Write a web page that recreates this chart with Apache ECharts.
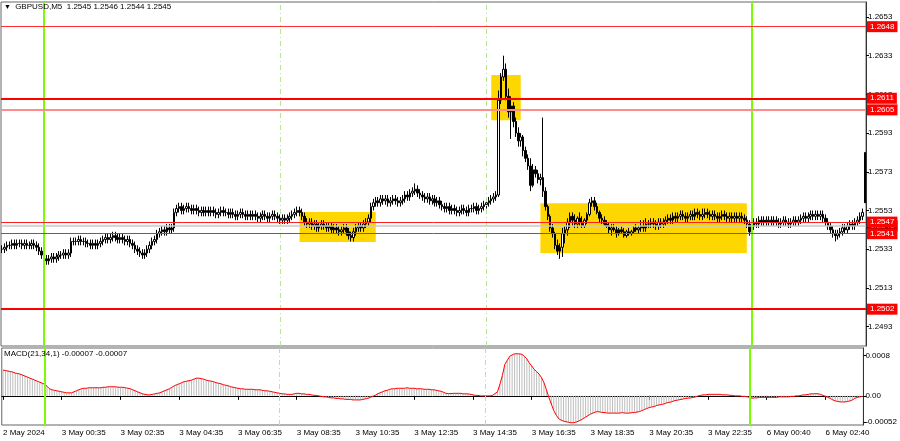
<!DOCTYPE html>
<html><head><meta charset="utf-8">
<script src="https://cdn.jsdelivr.net/npm/echarts@6/dist/echarts.min.js"></script>
<style>html,body{margin:0;padding:0;background:#fff}#c{width:900px;height:441px}</style>
</head><body><div id="c"></div>
<script>
// Prices are stored in pips above BASE (1.2500)
const BASE = 1.25;
const opens = [
33,33,34,35,35,36,35,36,36,35,
36,35,35,36,35,34,32,30,28,27,
28,29,28,29,30,30,31,30,31,37,
37,37,38,37,37,36,36,35,36,35,
36,37,38,39,38,39,40,39,38,39,
38,37,38,36,35,33,32,31,30,31,
33,35,37,38,41,42,43,42,44,43,
44,52,54,55,53,54,55,54,53,54,
53,52,53,52,53,52,53,52,51,52,
53,52,52,51,52,51,50,51,52,51,
50,51,50,51,50,49,50,51,50,49,
50,51,50,49,48,49,48,49,50,51,
52,53,52,50,47,46,47,45,46,44,
45,46,45,44,45,43,44,43,42,43,
44,42,40,39,42,44,45,44,46,47,
49,55,57,58,57,59,58,59,57,58,
59,58,57,58,59,61,60,62,63,64,
62,61,60,59,60,58,59,57,58,56,
55,54,55,53,54,53,52,53,54,53,
52,54,54,55,53,54,55,56,57,58,
59,60,61,110,122,126,112,104,107,99,
93,89,91,84,80,76,66,74,72,69,
70,63,55,50,44,41,35,32,34,41,
43,47,50,48,46,49,47,45,48,51,
57,58,55,52,49,48,46,45,43,44,
43,41,43,42,40,42,41,42,44,43,
44,45,44,46,46,47,46,45,47,46,
47,48,49,48,50,49,50,51,50,49,
50,51,50,52,51,50,51,52,51,50,
51,50,49,50,51,50,49,50,49,50,
49,50,49,48,46,42,45,47,46,48,
47,48,47,48,47,48,47,46,47,48,
47,46,47,48,47,48,49,50,49,50,
51,50,51,50,51,49,47,45,43,41,
40,41,42,44,43,45,46,45,47,48,
50,83];
const closes = [
33,34,35,35,36,35,36,36,35,36,
35,35,36,35,34,32,30,28,27,28,
29,28,29,30,30,31,30,31,37,37,
37,38,37,37,36,36,35,36,35,36,
37,38,39,38,39,40,39,38,39,38,
37,38,36,35,33,32,31,30,31,33,
35,37,38,41,42,43,42,44,43,44,
52,54,55,53,54,55,54,53,54,53,
52,53,52,53,52,53,52,51,52,53,
52,52,51,52,51,50,51,52,51,50,
51,50,51,50,49,50,51,50,49,50,
51,50,49,48,49,48,49,50,51,52,
53,52,50,47,46,47,45,46,44,45,
46,45,44,45,43,44,43,42,43,44,
42,40,39,42,44,45,44,46,47,49,
55,57,58,57,59,58,59,57,58,59,
58,57,58,59,61,60,62,63,64,62,
61,60,59,60,58,59,57,58,56,55,
54,55,53,54,53,52,53,54,53,52,
54,54,55,53,54,55,56,57,58,59,
60,61,110,122,126,112,104,107,99,93,
89,91,84,80,76,66,74,72,69,70,
63,55,50,44,41,35,32,34,41,43,
47,50,48,46,49,47,45,48,51,57,
58,55,52,49,48,46,45,43,44,43,
41,43,42,40,42,41,42,44,43,44,
45,44,46,46,47,46,45,47,46,47,
48,49,48,50,49,50,51,50,49,50,
51,50,52,51,50,51,52,51,50,51,
50,49,50,51,50,49,50,49,50,49,
50,49,48,46,42,45,47,46,48,47,
48,47,48,47,48,47,46,47,48,47,
46,47,48,47,48,49,50,49,50,51,
50,51,50,51,49,47,45,43,41,40,
41,42,44,43,45,46,45,47,48,50,
52,57];
const highs = [
35,36,37,37,38,38,38,38,38,38,
38,37,38,38,37,36,34,32,30,30,
31,31,31,32,32,33,33,33,39,39,
39,40,40,39,39,38,38,38,38,38,
39,40,41,41,41,42,42,41,41,41,
40,40,40,38,37,35,34,33,33,35,
37,39,40,43,44,45,45,46,46,46,
54,56,57,57,56,57,57,56,56,56,
55,55,55,55,55,55,55,54,54,55,
55,54,54,54,54,53,53,54,54,53,
53,53,53,53,52,52,53,53,52,52,
53,53,52,51,51,51,51,52,53,54,
55,55,54,52,49,49,49,48,48,47,
48,48,47,47,47,46,46,45,45,46,
46,44,42,44,46,47,47,48,49,51,
57,59,60,60,61,61,61,61,60,61,
61,60,60,61,63,63,64,65,67,66,
64,63,62,62,62,61,61,60,60,58,
57,57,57,56,56,55,55,56,56,55,
56,56,57,57,56,57,58,59,60,61,
62,63,115,124,133,129,116,112,109,101,
96,93,92,86,82,80,77,76,74,72,
101,65,56,51,46,42,38,36,44,45,
49,52,52,51,50,52,50,49,52,59,
60,60,57,53,51,50,48,47,46,46,
45,44,45,44,43,44,43,45,46,45,
48,48,49,48,49,49,48,49,49,49,
50,51,51,52,52,52,53,53,52,52,
53,53,54,54,53,54,54,54,53,53,
53,52,52,53,53,52,52,52,52,52,
52,52,51,50,48,47,49,49,50,50,
50,50,50,50,50,50,49,49,50,50,
49,49,50,50,50,51,52,52,52,53,
53,53,53,53,53,51,49,47,45,43,
43,44,46,46,47,48,48,49,50,52,
54,83];
const lows = [
31,31,32,33,33,33,33,34,33,33,
33,33,33,33,32,30,28,26,25,25,
26,26,26,27,28,28,28,28,29,35,
35,35,35,35,34,34,33,33,33,33,
34,35,36,36,36,37,37,36,36,36,
35,35,34,33,31,30,29,28,28,29,
31,33,35,36,39,40,40,40,41,41,
42,50,52,51,51,52,52,51,51,51,
50,50,50,50,50,50,50,49,49,50,
50,50,49,49,49,48,48,49,49,48,
48,48,48,48,47,47,48,48,47,47,
48,48,47,46,46,46,46,47,48,49,
50,50,48,45,44,44,43,43,42,42,
43,43,42,42,41,41,41,40,40,41,
40,38,37,37,40,42,42,42,44,45,
47,53,55,55,55,56,56,55,55,56,
56,55,55,56,57,58,58,60,61,60,
59,58,57,57,56,56,55,55,54,53,
52,52,51,51,51,50,50,51,51,50,
50,52,52,51,51,52,53,54,55,56,
57,58,60,108,120,110,101,90,96,91,
86,86,81,78,74,63,65,70,67,66,
60,53,48,42,39,33,30,28,29,36,
40,44,45,44,44,45,44,44,46,50,
55,53,51,47,46,45,44,41,40,42,
39,40,41,39,39,40,40,41,42,41,
42,42,42,44,44,44,43,43,44,44,
45,46,46,46,47,47,48,48,47,47,
48,48,48,49,48,48,49,49,48,48,
48,47,47,48,48,47,47,47,47,47,
47,47,46,44,40,40,43,44,44,45,
45,45,45,45,45,45,44,44,45,45,
44,44,45,45,45,46,47,47,47,48,
48,48,48,48,47,45,43,41,39,37,
38,39,40,41,41,43,43,43,45,46,
48,57];
// MACD(21,34,1) in units of 0.0001; signal SMA(1) equals MACD
const macdValues = [
5.1,5.0,4.9,4.8,4.7,4.5,4.4,4.3,4.1,3.9,
3.7,3.5,3.3,3.1,2.9,2.7,2.5,2.3,1.9,1.4,
1.2,1.1,1.0,0.9,0.8,0.7,0.6,0.6,0.6,0.8,
1.0,1.2,1.4,1.5,1.5,1.6,1.6,1.6,1.6,1.6,
1.6,1.7,1.7,1.8,1.8,1.8,1.8,1.7,1.7,1.7,
1.6,1.5,1.4,1.2,1.0,0.8,0.6,0.4,0.3,0.2,
0.2,0.3,0.4,0.5,0.6,0.8,1.0,1.2,1.4,1.7,
2.0,2.2,2.4,2.6,2.8,2.9,3.0,3.1,3.3,3.5,
3.5,3.4,3.3,3.1,3.0,2.9,2.8,2.6,2.5,2.4,
2.2,2.1,2.0,1.8,1.7,1.6,1.5,1.4,1.4,1.3,
1.3,1.3,1.3,1.2,1.2,1.2,1.1,1.0,1.0,0.9,
0.8,0.7,0.6,0.5,0.4,0.4,0.3,0.3,0.3,0.4,
0.5,0.5,0.4,0.4,0.3,0.3,0.2,0.1,0.1,0.0,
-0.1,-0.2,-0.2,-0.3,-0.4,-0.4,-0.5,-0.5,-0.6,-0.6,
-0.7,-0.7,-0.7,-0.8,-0.8,-0.8,-0.8,-0.7,-0.6,-0.5,
-0.3,-0.1,0.1,0.4,0.6,0.8,1.0,1.1,1.3,1.4,
1.4,1.5,1.5,1.5,1.5,1.6,1.5,1.5,1.5,1.4,
1.4,1.4,1.3,1.3,1.3,1.2,1.2,1.1,1.0,0.9,
0.7,0.5,0.45,0.45,0.5,0.5,0.5,0.5,0.4,0.4,
0.4,0.3,0.2,0.1,0.1,0.0,0.0,0.0,0.0,0.0,
0.1,0.45,0.8,2.3,4.0,6.2,7.0,7.8,8.1,8.3,
8.3,8.3,8.2,7.8,7.3,6.5,5.9,5.2,4.8,4.3,
3.6,2.6,1.2,-0.3,-1.6,-2.9,-3.8,-4.5,-4.8,-5.0,
-5.1,-5.2,-5.3,-5.3,-5.2,-5.0,-4.8,-4.5,-4.2,-3.9,
-3.6,-3.4,-3.2,-3.1,-3.2,-3.3,-3.3,-3.4,-3.4,-3.4,
-3.4,-3.4,-3.4,-3.3,-3.4,-3.4,-3.4,-3.3,-3.3,-3.2,
-3.1,-2.9,-2.7,-2.5,-2.3,-2.2,-2.1,-1.9,-1.8,-1.7,
-1.6,-1.4,-1.3,-1.2,-1.0,-0.9,-0.8,-0.7,-0.6,-0.5,
-0.45,-0.4,-0.3,-0.2,0.0,0.1,0.2,0.2,0.3,0.3,
0.3,0.3,0.3,0.3,0.2,0.2,0.2,0.1,0.1,0.0,
0.0,0.0,-0.1,-0.1,-0.2,-0.3,-0.45,-0.4,-0.4,-0.3,
-0.3,-0.3,-0.3,-0.3,-0.3,-0.3,-0.3,-0.2,-0.2,-0.2,
-0.2,-0.2,-0.1,-0.1,0.0,0.0,0.1,0.2,0.2,0.3,
0.4,0.4,0.45,0.4,0.3,0.1,-0.1,-0.3,-0.5,-0.8,
-1.0,-1.1,-1.2,-1.2,-1.2,-1.1,-1.0,-0.8,-0.5,-0.3,
-0.2,-0.1];
const tickIndex = [0,24,48,72,96,120,144,168,192,216,240,264,288,312,336];
const tickLabels = ['2 May 2024','3 May 00:35','3 May 02:35','3 May 04:35','3 May 06:35','3 May 08:35','3 May 10:35','3 May 12:35','3 May 14:35','3 May 16:35','3 May 18:35','3 May 20:35','3 May 22:35','6 May 00:40','6 May 02:40'];
const priceTicks = [1.2493,1.2513,1.2533,1.2553,1.2573,1.2593,1.2613,1.2633,1.2653];
const levels = [1.2648,1.2611,1.2605,1.2547,1.2541,1.2502];
const bidPrice = 1.2545;
const macdTicks = [-0.00052,0,0.0008];
const macdTickLabels = ['-0.00052','0.00','0.0008'];
const greenLines = [17,305];
const dashedLines = [113,197];
// boxes: [fromIndex, toIndex, topPrice, bottomPrice]
const boxes = [[199,211,1.2623,1.25997],[121,152,1.25522,1.25367],[219,303,1.25568,1.2531]];
const titleText = 'GBPUSD,M5  1.2545 1.2546 1.2544 1.2545';
const macdTitle = 'MACD(21,34,1) -0.00007 -0.00007';

// styles
const levelStyles = [
  {color:'#ff3030',width:1},{color:'#ff0000',width:2},{color:'#ff8c8c',width:2},
  {color:'#ff2020',width:1},{color:'#ff2020',width:1},{color:'#ff0000',width:2}
];
const FONT = 'Liberation Sans';
const FS = 8;

const cats = closes.map((_, i) => String(i));
const toP = v => +(BASE + v / 10000).toFixed(5);
const candles = closes.map((c, i) => [toP(opens[i]), toP(c), toP(lows[i]), toP(highs[i])]);
const macd = macdValues.map(v => +(v / 10000).toFixed(6));
const tickSet = new Set(tickIndex);

const vLines = [
  ...greenLines.map(i => ({xAxis: i, lineStyle: {color:'#7cfc00', width:2, type:'solid'}})),
  ...dashedLines.map(i => ({xAxis: i, lineStyle: {color:'#b6e88a', width:1, type:[5,3,1,3]}}))
];

const chart = echarts.init(document.getElementById('c'), null, {renderer:'canvas'});
chart.setOption({
  animation: false,
  backgroundColor: '#ffffff',
  textStyle: {fontFamily: FONT},
  title: [
    {text: '{t|▼} ' + titleText, left: 4, top: 3, padding: 0,
     textStyle: {fontSize: FS, fontWeight: 'normal', color: '#000', fontFamily: FONT,
       rich: {t: {fontSize: 7, color: '#000', padding: [0,2,0,0]}}}},
    {text: macdTitle, left: 4, top: 350, padding: 0,
     textStyle: {fontSize: FS, fontWeight: 'normal', color: '#000', fontFamily: FONT}}
  ],
  grid: [
    {left: 1, right: 34, top: 2, height: 344, show: true, borderColor: '#666', borderWidth: 1},
    {left: 1, right: 34, top: 348, height: 77, show: true, borderColor: '#666', borderWidth: 1}
  ],
  xAxis: [
    {type: 'category', data: cats, gridIndex: 0, axisLine: {show: false}, axisTick: {show: false}, axisLabel: {show: false}, splitLine: {show: false}},
    {type: 'category', data: cats, gridIndex: 1,
     axisLine: {show: true, lineStyle: {color: '#000'}},
     axisTick: {show: true, alignWithLabel: true, length: 4, interval: (i) => tickSet.has(i), lineStyle: {color: '#000'}},
     axisLabel: {show: true, interval: (i) => tickSet.has(i), align: 'left', margin: 4, fontSize: FS, color: '#000', fontFamily: FONT,
       formatter: (v, i) => tickLabels[tickIndex.indexOf(i)] || ''},
     splitLine: {show: false}}
  ],
  yAxis: [
    {type: 'value', gridIndex: 0, position: 'right', min: 1.248297, max: 1.266075, scale: true,
     axisLine: {show: true, lineStyle: {color: '#333'}},
     axisTick: {show: true, length: 3, customValues: priceTicks, lineStyle: {color: '#000'}},
     axisLabel: {show: true, customValues: priceTicks, formatter: v => v.toFixed(4), fontSize: FS, color: '#000', margin: 2, fontFamily: FONT},
     splitLine: {show: false}},
    {type: 'value', gridIndex: 1, position: 'right', min: -0.000575, max: 0.000945,
     axisLine: {show: true, lineStyle: {color: '#333'}},
     axisTick: {show: true, length: 3, customValues: macdTicks, lineStyle: {color: '#000'}},
     axisLabel: {show: true, customValues: macdTicks, fontSize: FS, color: '#000', margin: 2, fontFamily: FONT,
       formatter: v => { let k = 0, d = Infinity; macdTicks.forEach((t, j) => { if (Math.abs(t - v) < d) { d = Math.abs(t - v); k = j; } }); return macdTickLabels[k]; }},
     splitLine: {show: false}}
  ],
  series: [
    {type: 'line', name: 'objects', xAxisIndex: 0, yAxisIndex: 0, data: [], z: 1, silent: true,
     markArea: {silent: true, itemStyle: {color: '#ffd700', opacity: 1},
       data: boxes.map(b => [{xAxis: b[0], yAxis: b[2]}, {xAxis: b[1], yAxis: b[3]}])},
     markLine: {silent: true, symbol: ['none','none'], label: {show: false}, data: vLines}},
    {type: 'candlestick', name: 'GBPUSD', xAxisIndex: 0, yAxisIndex: 0, data: candles, z: 3, barWidth: 2,
     itemStyle: {color: '#ffffff', color0: '#000000', borderColor: '#000000', borderColor0: '#000000', borderWidth: 1}},
    {type: 'line', name: 'levels', xAxisIndex: 0, yAxisIndex: 0, data: [], z: 4, silent: true,
     markLine: {silent: true, symbol: ['none','none'], precision: 4,
       data: [
         {yAxis: bidPrice, lineStyle: {color: '#c8c8c8', width: 1.5, type: 'solid'},
          label: {show: true, position: 'end', distance: 1, formatter: bidPrice.toFixed(4), color: '#fff', backgroundColor: '#000', padding: [2,3,1,3], fontSize: FS, fontFamily: FONT}},
         ...levels.map((v, k) => ({yAxis: v, lineStyle: {color: levelStyles[k].color, width: levelStyles[k].width, type: 'solid'},
          label: {show: true, position: 'end', distance: 1, formatter: v.toFixed(4), color: '#fff', backgroundColor: '#ff0000', padding: [2,3,1,3], fontSize: FS, fontFamily: FONT}}))
       ]}},
    {type: 'bar', name: 'MACD', xAxisIndex: 1, yAxisIndex: 1, data: macd, barWidth: 1, z: 2, silent: true,
     itemStyle: {color: '#bdbdbd'},
     markLine: {silent: true, symbol: ['none','none'], label: {show: false}, data: vLines}},
    {type: 'line', name: 'Signal', xAxisIndex: 1, yAxisIndex: 1, data: macd, z: 3, silent: true,
     showSymbol: false, symbol: 'none', lineStyle: {color: '#ff0000', width: 1}}
  ]
});
</script></body></html>
